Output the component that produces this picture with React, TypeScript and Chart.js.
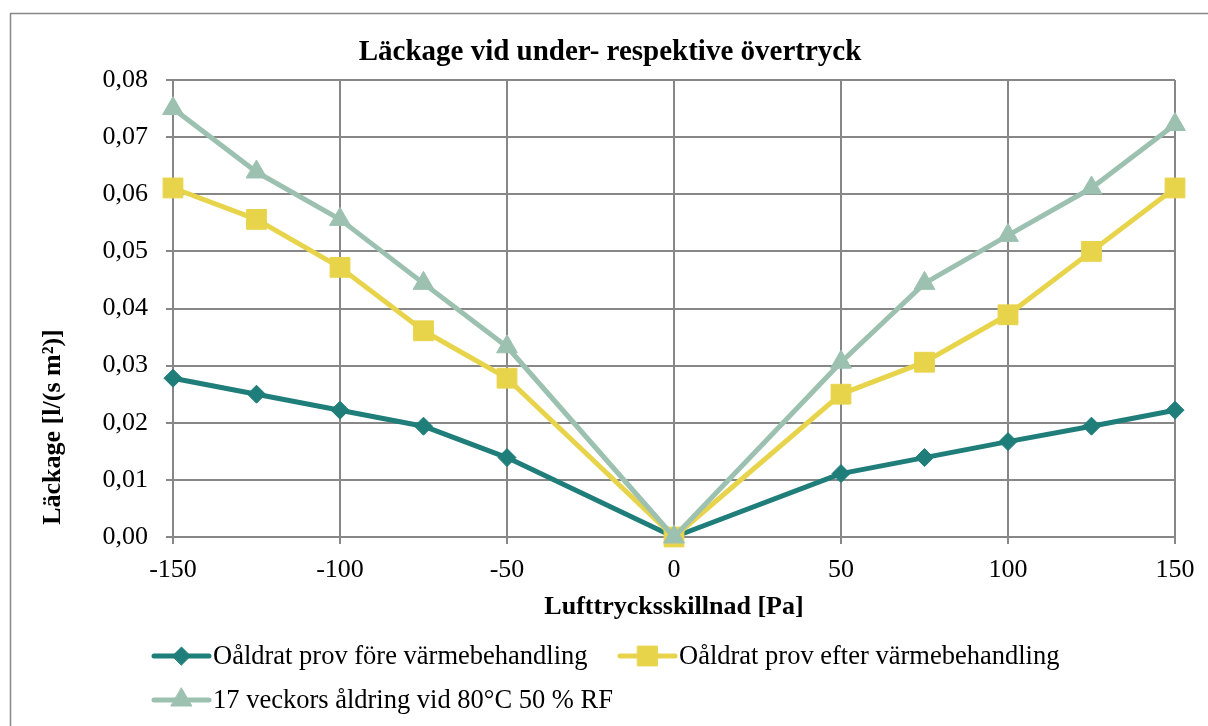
import React, { useEffect, useRef } from "react";
import { Chart, registerables } from "chart.js";

Chart.register(...registerables);

const pressure = [-150, -125, -100, -75, -50, 0, 50, 75, 100, 125, 150];
const foreValues = [0.0278, 0.025, 0.0222, 0.0194, 0.0139, 0, 0.0111, 0.0139, 0.0167, 0.0194, 0.0222];
const efterValues = [0.0611, 0.0556, 0.0472, 0.0361, 0.0278, 0, 0.025, 0.0306, 0.0389, 0.05, 0.0611];
const aldringValues = [0.075, 0.0639, 0.0556, 0.0444, 0.0333, 0, 0.0306, 0.0444, 0.0528, 0.0611, 0.0722];
const seriesNames = [
  "Oåldrat prov före värmebehandling",
  "Oåldrat prov efter värmebehandling",
  "17 veckors åldring vid 80°C 50 % RF",
];
const chartTitle = "Läckage vid under- respektive övertryck";
const xTitle = "Lufttrycksskillnad [Pa]";
const yTitle = "Läckage [l/(s m²)]";

const COLORS = ["#1f7e7a", "#e8d44a", "#9dc1b1"];
const FONT = '"Liberation Serif", "Times New Roman", serif';

function drawMarker(ctx: CanvasRenderingContext2D, style: string, r: number, x: number, y: number, color: string) {
  ctx.save();
  ctx.fillStyle = color;
  ctx.strokeStyle = color;
  ctx.lineWidth = 1;
  ctx.beginPath();
  if (style === "rectRot") {
    ctx.moveTo(x - r, y);
    ctx.lineTo(x, y - r);
    ctx.lineTo(x + r, y);
    ctx.lineTo(x, y + r);
  } else if (style === "rect") {
    const s = Math.SQRT1_2 * r;
    ctx.rect(x - s, y - s, 2 * s, 2 * s);
  } else {
    const a = Math.PI / 180;
    ctx.moveTo(x, y - r);
    ctx.lineTo(x + Math.sin(120 * a) * r, y - Math.cos(120 * a) * r);
    ctx.lineTo(x + Math.sin(240 * a) * r, y - Math.cos(240 * a) * r);
  }
  ctx.closePath();
  ctx.fill();
  ctx.stroke();
  ctx.restore();
}

const decorPlugin = {
  id: "decor",
  beforeDraw(chart: any) {
    const ctx = chart.ctx as CanvasRenderingContext2D;
    ctx.save();
    ctx.fillStyle = "#ffffff";
    ctx.fillRect(0, 0, chart.width, chart.height);
    ctx.strokeStyle = "#888888";
    ctx.lineWidth = 1.5;
    ctx.strokeRect(10.5, 13.5, chart.width + 50, chart.height + 50);
    ctx.restore();
  },
  afterDraw(chart: any) {
    const ctx = chart.ctx as CanvasRenderingContext2D;
    const area = chart.chartArea;
    ctx.save();
    ctx.fillStyle = "#000000";
    ctx.textAlign = "center";
    ctx.textBaseline = "middle";
    ctx.font = `bold 29px ${FONT}`;
    ctx.fillText(chartTitle, 610, 53);
    ctx.font = `bold 26px ${FONT}`;
    ctx.fillText(xTitle, (area.left + area.right) / 2, 607);
    ctx.save();
    ctx.translate(53, 427);
    ctx.rotate(-Math.PI / 2);
    ctx.fillText(yTitle, 0, 0);
    ctx.restore();

    // legend
    const items = [
      { x: 154, y: 656 },
      { x: 620, y: 656 },
      { x: 154, y: 700 },
    ];
    ctx.font = `26.5px ${FONT}`;
    ctx.textAlign = "left";
    chart.data.datasets.forEach((ds: any, i: number) => {
      const p = items[i];
      ctx.strokeStyle = ds.borderColor;
      ctx.lineWidth = 5;
      ctx.lineCap = "round";
      ctx.beginPath();
      ctx.moveTo(p.x, p.y);
      ctx.lineTo(p.x + 55, p.y);
      ctx.stroke();
      drawMarker(ctx, ds.pointStyle, ds.pointRadius, p.x + 27.5, p.y, ds.borderColor);
      ctx.fillStyle = "#000000";
      ctx.fillText(ds.label, p.x + 59, p.y + 1);
    });
    ctx.restore();
  },
};

export default function App() {
  const ref = useRef<HTMLCanvasElement>(null);
  useEffect(() => {
    if (!ref.current) return;
    const mk = (vals: number[]) => pressure.map((x, i) => ({ x, y: vals[i] }));
    const styles = ["rectRot", "rect", "triangle"];
    const radii = [9, 14, 12];
    const allVals = [foreValues, efterValues, aldringValues];
    const chart = new Chart(ref.current, {
      type: "line",
      data: {
        datasets: allVals.map((vals, i) => ({
          label: seriesNames[i],
          data: mk(vals),
          borderColor: COLORS[i],
          backgroundColor: COLORS[i],
          pointBackgroundColor: COLORS[i],
          pointBorderColor: COLORS[i],
          pointBorderWidth: 1,
          borderWidth: 5,
          pointStyle: styles[i],
          pointRadius: radii[i],
          pointHoverRadius: radii[i],
          borderJoinStyle: "round",
          borderCapStyle: "round",
          tension: 0,
          clip: false,
          order: 3 - i,
        })) as any,
      },
      options: {
        responsive: false,
        animation: false,
        layout: { padding: { left: 0, right: 33, top: 80, bottom: 0 } },
        plugins: {
          legend: { display: false },
          title: { display: false },
          tooltip: { enabled: false },
        },
        scales: {
          x: {
            type: "linear",
            min: -150,
            max: 150,
            afterFit: (s: any) => {
              s.height = 189;
            },
            ticks: {
              stepSize: 50,
              color: "#000000",
              font: { family: FONT, size: 26 },
              padding: 11,
              maxRotation: 0,
            },
            grid: { color: "#878787", lineWidth: 2, tickLength: 7, drawTicks: true },
            border: { color: "#878787", width: 2 },
          },
          y: {
            type: "linear",
            min: 0,
            max: 0.08,
            afterFit: (s: any) => {
              s.width = 173;
            },
            ticks: {
              stepSize: 0.01,
              color: "#000000",
              font: { family: FONT, size: 26 },
              padding: 18,
              callback: (v: any) => (Math.round(Number(v) * 100) / 100).toFixed(2).replace(".", ","),
            },
            grid: { color: "#878787", lineWidth: 2, tickLength: 7, drawTicks: true },
            border: { color: "#878787", width: 2 },
          },
        },
      },
      plugins: [decorPlugin],
    });
    return () => chart.destroy();
  }, []);
  return (
    <div style={{ position: "fixed", left: 0, top: 0, width: 1208, height: 726, background: "#fff" }}>
      <canvas ref={ref} width={1208} height={726} style={{ width: 1208, height: 726 }} />
    </div>
  );
}
